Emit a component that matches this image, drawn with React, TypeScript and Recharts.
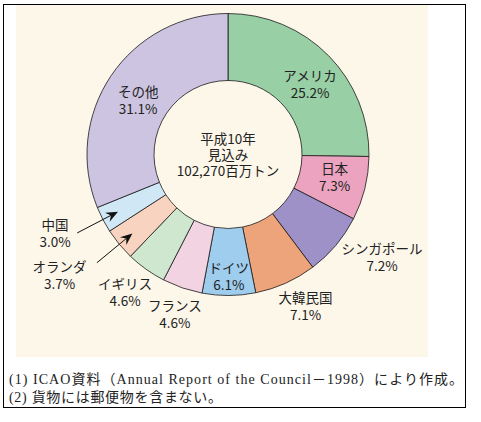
import { PieChart, Pie, Cell } from 'recharts';

const names = ['アメリカ', '日本', 'シンガポール', '大韓民国', 'ドイツ', 'フランス', 'イギリス', 'オランダ', '中国', 'その他'];
const shares = [25.2, 7.3, 7.2, 7.1, 6.1, 4.6, 4.6, 3.7, 3.0, 31.1];
const colors = ['#98cfa4', '#eba3bf', '#9d91c7', '#eea47a', '#9fcdee', '#f2d3e2', '#cfe6cf', '#f8d3bf', '#d0e8f6', '#ccc4e0'];

const centerLines = ['平成10年', '見込み', '102,270百万トン'];
const notes = ['(1) ICAO資料（Annual Report of the Council－1998）により作成。', '(2) 貨物には郵便物を含まない。'];

// label placement: distance from centre and angle tweak, per slice
const labelRadius = [108, 109, 185, 170, 122, 168, 172, 207, 190, 105];
const labelTurn = [-4, 2, 6.5, 3, 0, 0.5, -1.3, -4, -3, 2.8];
const withArrow = [false, false, false, false, false, false, false, true, true, false];

const data = names.map((name, i) => ({ name, value: shares[i] }));

const RADIAN = Math.PI / 180;
const font = "'Noto Sans CJK JP', 'Noto Sans', sans-serif";

const polar = (cx: number, cy: number, r: number, a: number) => ({
    x: cx + r * Math.cos(-a * RADIAN),
    y: cy + r * Math.sin(-a * RADIAN),
});

const renderLabel = (props: any) => {
    const { cx, cy, midAngle, index } = props;
    const p = polar(cx, cy, labelRadius[index], midAngle + labelTurn[index]);
    let arrow = null;
    if (withArrow[index]) {
        const tail = polar(cx, cy, 170, midAngle);
        const tip = polar(cx, cy, 124, midAngle);
        const len = Math.hypot(tip.x - tail.x, tip.y - tail.y);
        const ux = (tip.x - tail.x) / len;
        const uy = (tip.y - tail.y) / len;
        const bx = tip.x - 12 * ux;
        const by = tip.y - 12 * uy;
        const nx = tip.x - 8 * ux;
        const ny = tip.y - 8 * uy;
        const px = -uy * 5;
        const py = ux * 5;
        arrow = (
            <g>
                <line x1={tail.x} y1={tail.y} x2={nx} y2={ny} stroke="#111" strokeWidth={1} />
                <polygon
                    points={`${tip.x},${tip.y} ${bx + px},${by + py} ${nx},${ny} ${bx - px},${by - py}`}
                    fill="#111"
                />
            </g>
        );
    }
    // the hole's caption is drawn once, with the first slice
    const centre = index === 0 ? (
        <text x={cx} y={cy} textAnchor="middle" fontSize={13.5} fontFamily={font} fill="#222">
            {centerLines.map((t, i) => (
                <tspan key={t} x={cx} y={cy - 11 + i * 16}>{t}</tspan>
            ))}
        </text>
    ) : null;
    return (
        <g key={`lbl-${index}`}>
            {centre}
            {arrow}
            <text x={p.x} y={p.y} textAnchor="middle" fontSize={13.5} fontFamily={font} fill="#222">
                <tspan x={p.x} dy={-3}>{names[index]}</tspan>
                <tspan x={p.x} dy={17}>{`${shares[index].toFixed(1)}%`}</tspan>
            </text>
        </g>
    );
};

const App = () => {
    return (
        <div
            style={{
                position: 'absolute',
                left: 3,
                top: 4,
                width: 461,
                height: 402,
                border: '1px solid #000',
                background: '#fff',
            }}
        >
            <div style={{ marginLeft: 12, width: 412, height: 352, background: '#fdf7ea' }}>
                <PieChart width={412} height={352}>
                    <Pie
                        data={data}
                        dataKey="value"
                        cx={207}
                        cy={144.5}
                        innerRadius={74}
                        outerRadius={141}
                        startAngle={90}
                        endAngle={-270}
                        stroke="#1a1a1a"
                        strokeWidth={0.8}
                        label={renderLabel}
                        labelLine={false}
                        isAnimationActive={false}
                    >
                        {data.map((d, i) => (
                            <Cell key={d.name} fill={colors[i]} />
                        ))}
                    </Pie>
                </PieChart>
            </div>
            <svg width={461} height={50} style={{ display: 'block' }}>
                <text
                    x={5}
                    y={27}
                    fontSize={14}
                    fontFamily="'Liberation Serif', 'Noto Sans CJK JP', serif"
                    fill="#222"
                    textLength={454}
                    lengthAdjust="spacing"
                >
                    {notes[0]}
                </text>
                <text
                    x={5}
                    y={45}
                    fontSize={14}
                    fontFamily="'Liberation Serif', 'Noto Sans CJK JP', serif"
                    fill="#222"
                    textLength={213}
                    lengthAdjust="spacing"
                >
                    {notes[1]}
                </text>
            </svg>
        </div>
    );
};

export default App;
